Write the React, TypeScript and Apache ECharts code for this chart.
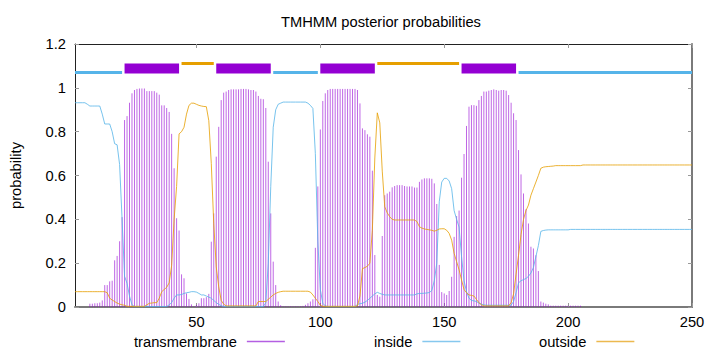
import React, { useEffect, useRef } from "react";
import * as echarts from "echarts";

// residue positions 1..250 (x categories)
const residues: number[] = Array.from({ length: 250 }, (_, i) => i + 1);

const xTickValues = [50, 100, 150, 200, 250];

// posterior probability of transmembrane per residue
const transmembrane = [
  0, 0, 0, 0, 0, 0, 0.015, 0.015, 0.017, 0.017,
  0.02, 0.03, 0.10, 0.10, 0.117, 0.12, 0.213, 0.233, 0.30, 0.41,
  0.853, 0.871, 0.932, 0.975, 0.99, 0.995, 0.997, 0.997, 0.997, 0.985,
  0.985, 0.985, 0.985, 0.978, 0.969, 0.92, 0.92, 0.908, 0.89, 0.79,
  0.633, 0.405, 0.349, 0.149, 0.131, 0.062, 0.037, 0.012, 0.003, 0.01,
  0.017, 0.04, 0.04, 0.045, 0.06, 0.298, 0.427, 0.686, 0.822, 0.944,
  0.978, 0.983, 0.99, 0.993, 0.993, 0.993, 0.993, 0.995, 0.995, 0.995,
  0.993, 0.99, 0.99, 0.983, 0.963, 0.95, 0.948, 0.908, 0.663, 0.427,
  0.207, 0.10, 0.025, 0.008, 0.003, 0.003, 0.003, 0.003, 0.003, 0.003,
  0.003, 0.003, 0.005, 0.01, 0.017, 0.025, 0.035, 0.27, 0.55, 0.81,
  0.94, 0.975, 0.99, 0.995, 0.995, 0.995, 0.995, 0.995, 0.995, 0.995,
  0.995, 0.995, 0.995, 0.995, 0.99, 0.929, 0.815, 0.807, 0.788, 0.777,
  0.622, 0.237, 0.055, 0.047, 0.324, 0.51, 0.518, 0.526, 0.546, 0.552,
  0.556, 0.556, 0.556, 0.552, 0.55, 0.55, 0.55, 0.545, 0.545, 0.571,
  0.582, 0.587, 0.587, 0.587, 0.585, 0.564, 0.47, 0.192, 0.068, 0.062,
  0.055, 0.073, 0.138, 0.32, 0.415, 0.44, 0.59, 0.698, 0.826, 0.914,
  0.921, 0.921, 0.918, 0.944, 0.963, 0.983, 0.983, 0.987, 0.99, 0.993,
  0.99, 0.987, 0.99, 0.99, 0.987, 0.967, 0.932, 0.884, 0.853, 0.716,
  0.605, 0.518, 0.446, 0.381, 0.275, 0.267, 0.236, 0.164, 0.025, 0.02,
  0.015, 0.012, 0.006, 0.006, 0.006, 0.006, 0.006, 0.006, 0.006, 0.006,
  0.006, 0.006, 0.006, 0.006, 0.006, 0, 0, 0, 0, 0,
  0, 0, 0, 0, 0, 0, 0, 0, 0, 0,
  0, 0, 0, 0, 0, 0, 0, 0, 0, 0,
  0, 0, 0, 0, 0, 0, 0, 0, 0, 0,
  0, 0, 0, 0, 0, 0, 0, 0, 0, 0,
];

// posterior probability of "inside"
const inside = [
  0.932, 0.932, 0.932, 0.932, 0.932, 0.925, 0.917, 0.917, 0.917, 0.917,
  0.917, 0.88, 0.835, 0.835, 0.835, 0.80, 0.745, 0.74, 0.65, 0.40,
  0.14, 0.108, 0.05, 0.01, 0.002, 0.002, 0.002, 0.002, 0.002, 0.002,
  0.002, 0.002, 0.002, 0.002, 0.002, 0.002, 0.002, 0.002, 0.01, 0.02,
  0.04, 0.055, 0.055, 0.057, 0.062, 0.065, 0.067, 0.07, 0.07, 0.068,
  0.062, 0.055, 0.055, 0.05, 0.045, 0.04, 0.03, 0.02, 0.012, 0.006,
  0.002, 0.002, 0.002, 0.002, 0.002, 0.002, 0.002, 0.002, 0.002, 0.002,
  0.002, 0.002, 0.002, 0.002, 0.002, 0.002, 0.002, 0.02, 0.2, 0.55,
  0.82, 0.90, 0.925, 0.93, 0.935, 0.935, 0.935, 0.935, 0.935, 0.935,
  0.935, 0.935, 0.935, 0.935, 0.93, 0.92, 0.906, 0.70, 0.30, 0.08,
  0.017, 0.005, 0.002, 0.002, 0.002, 0.002, 0.002, 0.002, 0.002, 0.002,
  0.002, 0.002, 0.002, 0.002, 0.012, 0.015, 0.017, 0.022, 0.03, 0.04,
  0.05, 0.06, 0.067, 0.062, 0.058, 0.055, 0.055, 0.055, 0.055, 0.055,
  0.055, 0.055, 0.055, 0.055, 0.055, 0.055, 0.055, 0.055, 0.06, 0.062,
  0.062, 0.063, 0.064, 0.066, 0.075, 0.12, 0.2, 0.48, 0.57, 0.587,
  0.587, 0.575, 0.54, 0.44, 0.40, 0.365, 0.23, 0.12, 0.07, 0.04,
  0.03, 0.028, 0.025, 0.018, 0.013, 0.01, 0.008, 0.008, 0.008, 0.008,
  0.008, 0.008, 0.008, 0.008, 0.008, 0.008, 0.008, 0.025, 0.065, 0.11,
  0.12, 0.125, 0.13, 0.14, 0.155, 0.18, 0.23, 0.28, 0.345, 0.349,
  0.351, 0.352, 0.352, 0.352, 0.352, 0.352, 0.352, 0.352, 0.352, 0.352,
  0.354, 0.354, 0.354, 0.354, 0.354, 0.354, 0.354, 0.354, 0.354, 0.354,
  0.354, 0.354, 0.354, 0.354, 0.354, 0.354, 0.354, 0.354, 0.354, 0.354,
  0.354, 0.354, 0.354, 0.354, 0.354, 0.354, 0.354, 0.354, 0.354, 0.354,
  0.354, 0.354, 0.354, 0.354, 0.354, 0.354, 0.354, 0.354, 0.354, 0.354,
  0.354, 0.354, 0.354, 0.354, 0.354, 0.354, 0.354, 0.354, 0.354, 0.354,
];

// posterior probability of "outside"
const outside = [
  0.07, 0.07, 0.07, 0.07, 0.07, 0.07, 0.07, 0.07, 0.07, 0.07,
  0.07, 0.07, 0.07, 0.065, 0.04, 0.032, 0.025, 0.018, 0.013, 0.01,
  0.008, 0.003, 0.003, 0.003, 0.003, 0.003, 0.003, 0.003, 0.003, 0.01,
  0.017, 0.018, 0.02, 0.02, 0.04, 0.07, 0.08, 0.09, 0.11, 0.19,
  0.40, 0.55, 0.79, 0.80, 0.82, 0.88, 0.92, 0.93, 0.93, 0.925,
  0.92, 0.917, 0.915, 0.914, 0.85, 0.655, 0.38, 0.183, 0.092, 0.03,
  0.013, 0.005, 0.005, 0.005, 0.005, 0.005, 0.005, 0.005, 0.005, 0.005,
  0.005, 0.005, 0.005, 0.005, 0.025, 0.025, 0.025, 0.025, 0.035, 0.045,
  0.055, 0.062, 0.067, 0.07, 0.072, 0.072, 0.072, 0.072, 0.072, 0.072,
  0.072, 0.072, 0.072, 0.072, 0.072, 0.068, 0.055, 0.04, 0.025, 0.008,
  0.003, 0.003, 0.003, 0.003, 0.003, 0.003, 0.003, 0.003, 0.003, 0.003,
  0.003, 0.003, 0.003, 0.003, 0.005, 0.05, 0.175, 0.18, 0.186, 0.2,
  0.35, 0.68, 0.886, 0.84, 0.62, 0.457, 0.43, 0.412, 0.40, 0.397,
  0.397, 0.397, 0.397, 0.397, 0.397, 0.397, 0.397, 0.397, 0.39, 0.366,
  0.36, 0.356, 0.354, 0.352, 0.35, 0.346, 0.35, 0.356, 0.357, 0.357,
  0.35, 0.336, 0.305, 0.245, 0.207, 0.17, 0.123, 0.08, 0.065, 0.055,
  0.053, 0.05, 0.035, 0.02, 0.01, 0.005, 0.005, 0.005, 0.005, 0.005,
  0.005, 0.005, 0.005, 0.005, 0.005, 0.005, 0.02, 0.06, 0.15, 0.236,
  0.33, 0.40, 0.44, 0.465, 0.51, 0.54, 0.57, 0.60, 0.633, 0.638,
  0.64, 0.641, 0.642, 0.643, 0.645, 0.645, 0.645, 0.645, 0.645, 0.645,
  0.645, 0.645, 0.645, 0.645, 0.645, 0.648, 0.648, 0.648, 0.648, 0.648,
  0.648, 0.648, 0.648, 0.648, 0.648, 0.648, 0.648, 0.648, 0.648, 0.648,
  0.648, 0.648, 0.648, 0.648, 0.648, 0.648, 0.648, 0.648, 0.648, 0.648,
  0.648, 0.648, 0.648, 0.648, 0.648, 0.648, 0.648, 0.648, 0.648, 0.648,
  0.648, 0.648, 0.648, 0.648, 0.648, 0.648, 0.648, 0.648, 0.648, 0.648,
];

// predicted topology segments [start, end]
const insideSegments = [[1, 20], [81, 99], [180, 250]];
const outsideSegments = [[44, 57], [123, 156]];
const tmSegments = [[21, 43], [58, 80], [100, 122], [157, 179]];

const FONT = "'Liberation Sans', Arial, sans-serif";
const FS = 14.7;
const PURPLE = "#9400d3";
const BLUE = "#56b4e9";
const ORANGE = "#e69f00";

const INSIDE_LEVEL = 1.07;
const OUTSIDE_LEVEL = 1.111;
const TM_LOW = 1.0655;
const TM_HIGH = 1.1115;

function segLine(level: number, color: string) {
  return (params: any, api: any) => {
    const a = api.coord([api.value(0), level]);
    const b = api.coord([api.value(1), level]);
    return {
      type: "line",
      shape: { x1: a[0], y1: a[1], x2: b[0], y2: b[1] },
      style: { stroke: color, lineWidth: 3, lineCap: "butt" },
    };
  };
}

export default function App() {
  const ref = useRef<HTMLDivElement>(null);

  useEffect(() => {
    document.body.style.margin = "0";
    if (!ref.current) return;
    const chart = echarts.init(ref.current, null, { renderer: "svg" });

    const tmData = residues.map((r, i) => [r, transmembrane[i]]);
    const inData = residues.map((r, i) => [r, inside[i]]);
    const outData = residues.map((r, i) => [r, outside[i]]);

    const legendBase = {
      top: 334,
      align: "right",
      itemWidth: 38,
      itemHeight: 1.4,
      padding: 0,
      selectedMode: false,
      textStyle: { fontSize: FS, color: "#000", fontFamily: FONT, padding: [0, 5, 0, 0] },
    };

    const option: any = {
      animation: false,
      textStyle: { fontFamily: FONT },
      title: {
        text: "TMHMM posterior probabilities",
        left: 281,
        top: 14,
        padding: 0,
        textStyle: { fontSize: FS, fontWeight: "normal", color: "#000", fontFamily: FONT },
      },
      grid: { left: 73, right: 28, top: 44, bottom: 45, containLabel: false },
      legend: [
        {
          ...legendBase,
          left: 134,
          data: [{ name: "transmembrane", icon: "rect", itemStyle: { color: "#b45fe2", borderWidth: 0 } }],
        },
        {
          ...legendBase,
          left: 374,
          data: [{ name: "inside", icon: "rect", itemStyle: { color: "#86c8ee", borderWidth: 0 } }],
        },
        {
          ...legendBase,
          left: 539,
          data: [{ name: "outside", icon: "rect", itemStyle: { color: "#ecb94f", borderWidth: 0 } }],
        },
      ],
      xAxis: [
        {
          type: "value",
          min: 1,
          max: 250,
          position: "bottom",
          axisLine: { show: true, onZero: false, lineStyle: { color: "#7a7a7a", width: 2 } },
          axisTick: { show: true, inside: true, length: 4, customValues: xTickValues, lineStyle: { color: "#999" } },
          axisLabel: { customValues: xTickValues, margin: 7, color: "#000", fontSize: FS, fontFamily: FONT },
          splitLine: { show: false },
        },
        {
          type: "value",
          min: 1,
          max: 250,
          position: "top",
          axisLine: { show: true, onZero: false, lineStyle: { color: "#222", width: 1 } },
          axisTick: { show: true, inside: true, length: 4, customValues: xTickValues, lineStyle: { color: "#999" } },
          axisLabel: { show: false },
          splitLine: { show: false },
        },
      ],
      yAxis: [
        {
          type: "value",
          min: 0,
          max: 1.2,
          interval: 0.2,
          position: "left",
          name: "probability",
          nameLocation: "middle",
          nameGap: 52,
          nameTextStyle: { fontSize: FS, color: "#000", fontFamily: FONT },
          axisLine: { show: true, onZero: false, lineStyle: { color: "#222", width: 1 } },
          axisTick: { show: true, inside: true, length: 4, lineStyle: { color: "#999" } },
          axisLabel: { margin: 9, color: "#000", fontSize: FS, fontFamily: FONT },
          splitLine: { show: false },
        },
        {
          type: "value",
          min: 0,
          max: 1.2,
          interval: 0.2,
          position: "right",
          axisLine: { show: true, onZero: false, lineStyle: { color: "#7a7a7a", width: 2 } },
          axisTick: { show: true, inside: true, length: 4, lineStyle: { color: "#999" } },
          axisLabel: { show: false },
          splitLine: { show: false },
        },
      ],
      series: [
        {
          name: "transmembrane",
          type: "custom",
          xAxisIndex: 0,
          yAxisIndex: 0,
          data: tmData,
          itemStyle: { color: PURPLE },
          renderItem: (params: any, api: any) => {
            const v = api.value(1);
            if (!v) return null;
            const x = api.value(0);
            const a = api.coord([x, 0]);
            const b = api.coord([x, v]);
            return {
              type: "line",
              shape: { x1: a[0], y1: a[1], x2: b[0], y2: b[1] },
              style: { stroke: "rgba(148,0,211,0.6)", lineWidth: 1 },
            };
          },
        },
        {
          name: "inside",
          type: "line",
          xAxisIndex: 0,
          yAxisIndex: 0,
          data: inData,
          showSymbol: false,
          symbol: "none",
          itemStyle: { color: BLUE },
          lineStyle: { color: BLUE, width: 1, opacity: 0.8 },
        },
        {
          name: "outside",
          type: "line",
          xAxisIndex: 0,
          yAxisIndex: 0,
          data: outData,
          showSymbol: false,
          symbol: "none",
          itemStyle: { color: ORANGE },
          lineStyle: { color: ORANGE, width: 1, opacity: 0.8 },
        },
        {
          name: "topology-inside",
          type: "custom",
          xAxisIndex: 0,
          yAxisIndex: 0,
          data: insideSegments,
          renderItem: segLine(INSIDE_LEVEL, BLUE),
        },
        {
          name: "topology-outside",
          type: "custom",
          xAxisIndex: 0,
          yAxisIndex: 0,
          data: outsideSegments,
          renderItem: segLine(OUTSIDE_LEVEL, ORANGE),
        },
        {
          name: "topology-tm",
          type: "custom",
          xAxisIndex: 0,
          yAxisIndex: 0,
          data: tmSegments,
          renderItem: (params: any, api: any) => {
            const a = api.coord([api.value(0), TM_HIGH]);
            const b = api.coord([api.value(1), TM_LOW]);
            return {
              type: "rect",
              shape: { x: a[0], y: a[1], width: b[0] - a[0], height: b[1] - a[1] },
              style: { fill: PURPLE },
            };
          },
        },
      ],
    };

    chart.setOption(option);
    return () => {
      chart.dispose();
    };
  }, []);

  return (
    <div
      ref={ref}
      style={{ position: "absolute", left: 0, top: 0, width: 720, height: 352, background: "#fff" }}
    />
  );
}
